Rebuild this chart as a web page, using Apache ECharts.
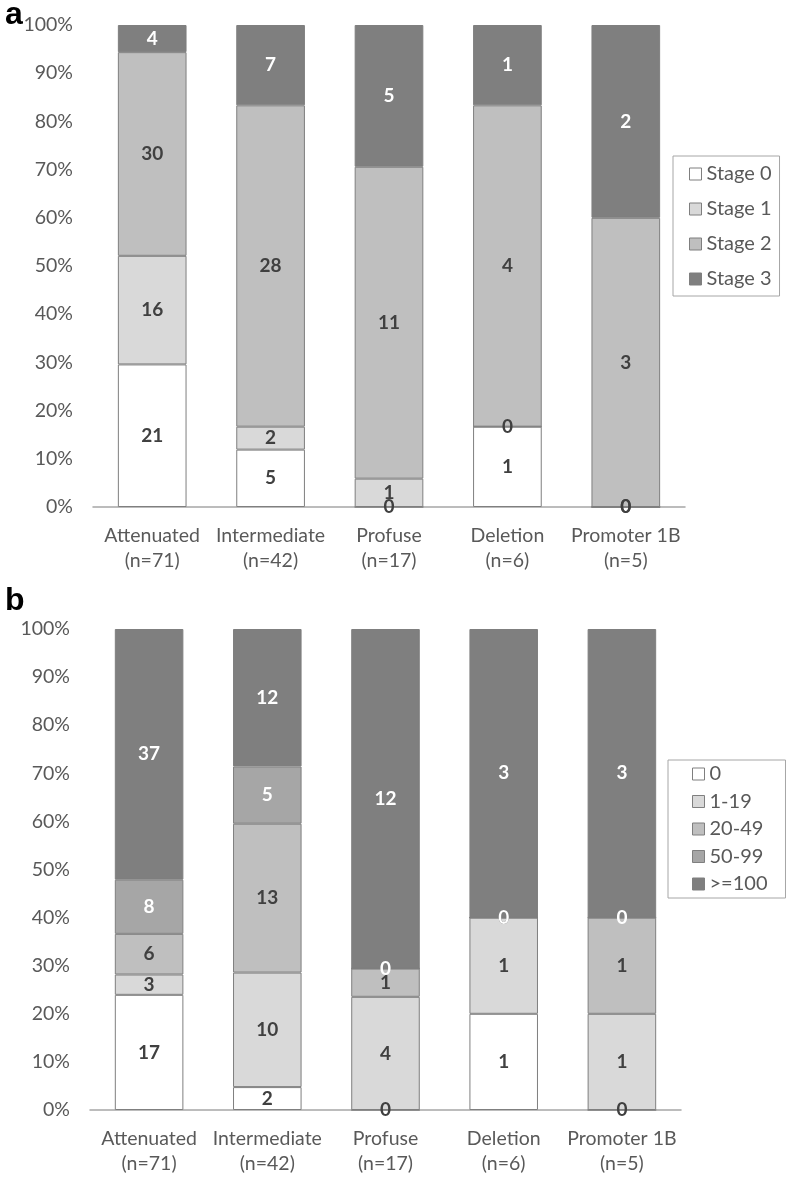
<!DOCTYPE html>
<html>
<head>
<meta charset="utf-8">
<script src="https://cdn.jsdelivr.net/npm/echarts@6/dist/echarts.min.js"></script>
<style>
html,body{margin:0;padding:0;background:#fff;}
#c{width:787px;height:1178px;}
</style>
</head>
<body>
<div id="c"></div>
<script>
const categories = ['Attenuated\n(n=71)', 'Intermediate\n(n=42)', 'Profuse\n(n=17)', 'Deletion\n(n=6)', 'Promoter 1B\n(n=5)'];
const yTicks = ['0%','10%','20%','30%','40%','50%','60%','70%','80%','90%','100%'];

// Panel a
const stageNames = ['Stage 0', 'Stage 1', 'Stage 2', 'Stage 3'];
const stage0 = [21, 5, 0, 1, 0];
const stage1 = [16, 2, 1, 0, 0];
const stage2 = [30, 28, 11, 4, 3];
const stage3 = [4, 7, 5, 1, 2];

// Panel b
const countNames = ['0', '1-19', '20-49', '50-99', '>=100'];
const count0 = [17, 2, 0, 1, 0];
const count1_19 = [3, 10, 4, 1, 1];
const count20_49 = [6, 13, 1, 0, 1];
const count50_99 = [8, 5, 0, 0, 0];
const count100 = [37, 12, 12, 3, 3];

const FONT = 'Lato';
const aSeries = [stage0, stage1, stage2, stage3];
const aColors = ['#ffffff', '#d9d9d9', '#bfbfbf', '#7f7f7f'];
const aLabelColors = ['#404040', '#404040', '#404040', '#ffffff'];
const bSeries = [count0, count1_19, count20_49, count50_99, count100];
const bColors = ['#ffffff', '#d9d9d9', '#bfbfbf', '#a6a6a6', '#7f7f7f'];
const bLabelColors = ['#404040', '#404040', '#404040', '#ffffff', '#ffffff'];

function totals(list) {
  return categories.map((_, i) => list.reduce((s, arr) => s + arr[i], 0));
}
const aTot = totals(aSeries);
const bTot = totals(bSeries);

function makeSeries(list, names, colors, labelColors, tot, axisIdx, stackName) {
  return list.map((arr, k) => ({
    name: names[k],
    type: 'bar',
    stack: stackName,
    xAxisIndex: axisIdx,
    yAxisIndex: axisIdx,
    barCategoryGap: '42%',
    data: arr.map((v, i) => v / tot[i] * 100),
    itemStyle: { color: colors[k], borderColor: '#7f7f7f', borderWidth: 1 },
    label: {
      show: true,
      position: 'inside',
      fontFamily: FONT,
      fontWeight: 'bold',
      fontSize: 19,
      color: labelColors[k],
      formatter: p => String(arr[p.dataIndex])
    },
    emphasis: { disabled: true },
    animation: false
  }));
}

const axisLabelY = { formatter: v => yTicks[Math.round(v / 10)], color: '#595959', fontFamily: FONT, fontSize: 19.5, margin: 20 };
const axisLabelX = { color: '#595959', fontFamily: FONT, fontSize: 19.5, lineHeight: 25, margin: 16, interval: 0 };

const chart = echarts.init(document.getElementById('c'), null, { renderer: 'canvas' });
chart.setOption({
  animation: false,
  backgroundColor: '#ffffff',
  title: [
    { text: 'a', left: 0, top: -6, textStyle: { fontFamily: 'Liberation Sans', fontWeight: 'bold', fontSize: 32, color: '#000' } },
    { text: 'b', left: 0, top: 580, textStyle: { fontFamily: 'Liberation Sans', fontWeight: 'bold', fontSize: 32, color: '#000' } }
  ],
  grid: [
    { left: 93, right: 102, top: 25, bottom: 671 },
    { left: 90, right: 106, top: 629, bottom: 68 }
  ],
  legend: [
    {
      data: stageNames, orient: 'vertical', left: 673, top: 156, icon: 'rect',
      itemWidth: 12, itemHeight: 12, itemGap: 15,
      borderColor: '#a6a6a6', borderWidth: 1, padding: [8, 8, 7, 16],
      textStyle: { fontFamily: FONT, fontSize: 20, color: '#595959' },
      itemStyle: { borderColor: '#7f7f7f', borderWidth: 1 },
      selectedMode: false
    },
    {
      data: countNames, orient: 'vertical', left: 668, top: 760, icon: 'rect',
      itemWidth: 12, itemHeight: 12, itemGap: 7.5,
      borderColor: '#a6a6a6', borderWidth: 1, padding: [4, 18, 4, 24],
      textStyle: { fontFamily: FONT, fontSize: 20, color: '#595959' },
      itemStyle: { borderColor: '#7f7f7f', borderWidth: 1 },
      selectedMode: false
    }
  ],
  xAxis: [
    { type: 'category', gridIndex: 0, data: categories, axisTick: { show: false },
      axisLine: { lineStyle: { color: '#a6a6a6', width: 1.5 } }, axisLabel: axisLabelX },
    { type: 'category', gridIndex: 1, data: categories, axisTick: { show: false },
      axisLine: { lineStyle: { color: '#a6a6a6', width: 1.5 } }, axisLabel: axisLabelX }
  ],
  yAxis: [
    { type: 'value', gridIndex: 0, min: 0, max: 100, interval: 10, splitLine: { show: false },
      axisLine: { show: false }, axisTick: { show: false }, axisLabel: axisLabelY },
    { type: 'value', gridIndex: 1, min: 0, max: 100, interval: 10, splitLine: { show: false },
      axisLine: { show: false }, axisTick: { show: false }, axisLabel: axisLabelY }
  ],
  series: [
    ...makeSeries(aSeries, stageNames, aColors, aLabelColors, aTot, 0, 'a'),
    ...makeSeries(bSeries, countNames, bColors, bLabelColors, bTot, 1, 'b')
  ]
});
</script>
</body>
</html>
